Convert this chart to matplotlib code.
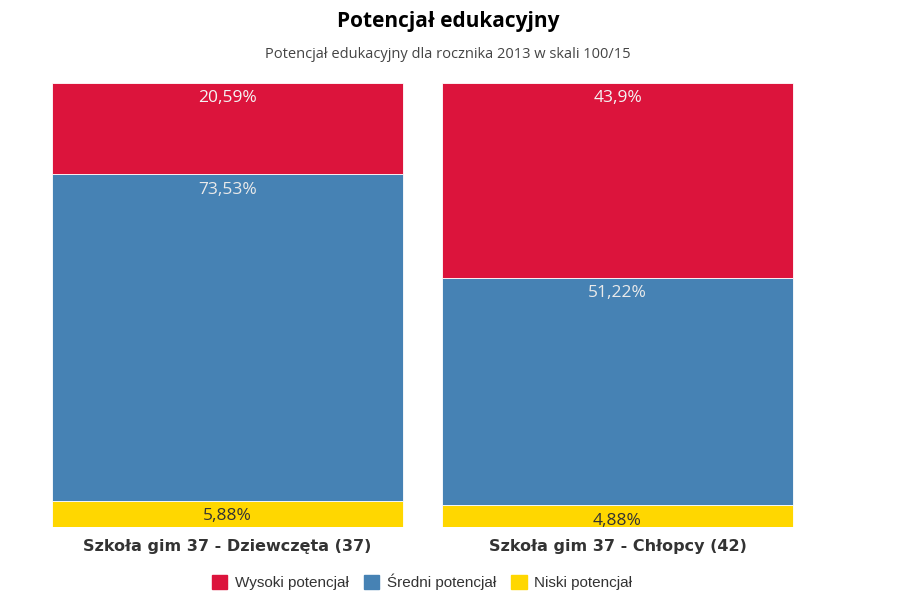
import matplotlib.pyplot as plt
plt.switch_backend('agg')

categories = ["Szkoła gim 37 - Dziewczęta (37)", "Szkoła gim 37 - Chłopcy (42)"]
series_names = ["Wysoki potencjał", "Średni potencjał", "Niski potencjał"]
wysoki = [20.59, 43.9]
sredni = [73.53, 51.22]
niski = [5.88, 4.88]
labels_wysoki = ["20,59%", "43,9%"]
labels_sredni = ["73,53%", "51,22%"]
labels_niski = ["5,88%", "4,88%"]

colors = ["#DC143C", "#4682B4", "#FFD700"]
text_colors = ["#f4f4f4", "#eaeaea", "#333333"]

W, H = 897, 612
fig = plt.figure(figsize=(W / 100, H / 100), dpi=100)
# axes placed so that bars land at pixels 52-403 and 442-793, top 83, bottom 527
ax = fig.add_axes([32.5 / W, 1 - 527 / H, 780 / W, 444 / H])

x = list(range(len(categories)))
bottom_sredni = niski
bottom_wysoki = [a + b for a, b in zip(niski, sredni)]
total = [a + b + c for a, b, c in zip(niski, sredni, wysoki)]

ax.bar(x, niski, width=0.9, color=colors[2], edgecolor="white", linewidth=0.6)
ax.bar(x, sredni, width=0.9, bottom=bottom_sredni, color=colors[1], edgecolor="white", linewidth=0.6)
ax.bar(x, wysoki, width=0.9, bottom=bottom_wysoki, color=colors[0], edgecolor="white", linewidth=0.6)

ax.set_xlim(-0.5, 1.5)
ax.set_ylim(0, max(total))
ax.axis("off")

font_lbl = ["Open Sans", "DejaVu Sans"]
tops = [
    (total, labels_wysoki, text_colors[0]),
    ([a + b for a, b in zip(niski, sredni)], labels_sredni, text_colors[1]),
    (niski, labels_niski, text_colors[2]),
]
for seg_top, labs, col in tops:
    for i in x:
        ax.annotate(labs[i], (i, seg_top[i]), xytext=(0, -11), textcoords="offset points",
                    ha="center", va="center", fontsize=12.5, color=col, family=font_lbl)

for i in x:
    ax.annotate(categories[i], (i, 0), xytext=(0, -14), textcoords="offset points",
                ha="center", va="center", fontsize=11.5, fontweight="bold",
                color="#333333", family=["DejaVu Sans"])

fig.text(448 / W, 1 - 22 / H, "Potencjał edukacyjny", ha="center", va="center",
         fontsize=15, fontweight="bold", color="black", family=font_lbl)
fig.text(448 / W, 1 - 55 / H, "Potencjał edukacyjny dla rocznika 2013 w skali 100/15",
         ha="center", va="center", fontsize=10.5, color="#444444", family=font_lbl)

handles = [plt.Rectangle((0, 0), 1, 1, color=c) for c in colors]
fig.legend(handles, series_names, loc="center", bbox_to_anchor=(422 / W, 1 - 582 / H),
           ncol=3, frameon=False, handlelength=1.0, handleheight=1.0, handletextpad=0.5,
           columnspacing=1.0, prop={"family": ["Liberation Sans"], "size": 11},
           labelcolor="#333333")

fig.savefig("out.png", dpi=100)
